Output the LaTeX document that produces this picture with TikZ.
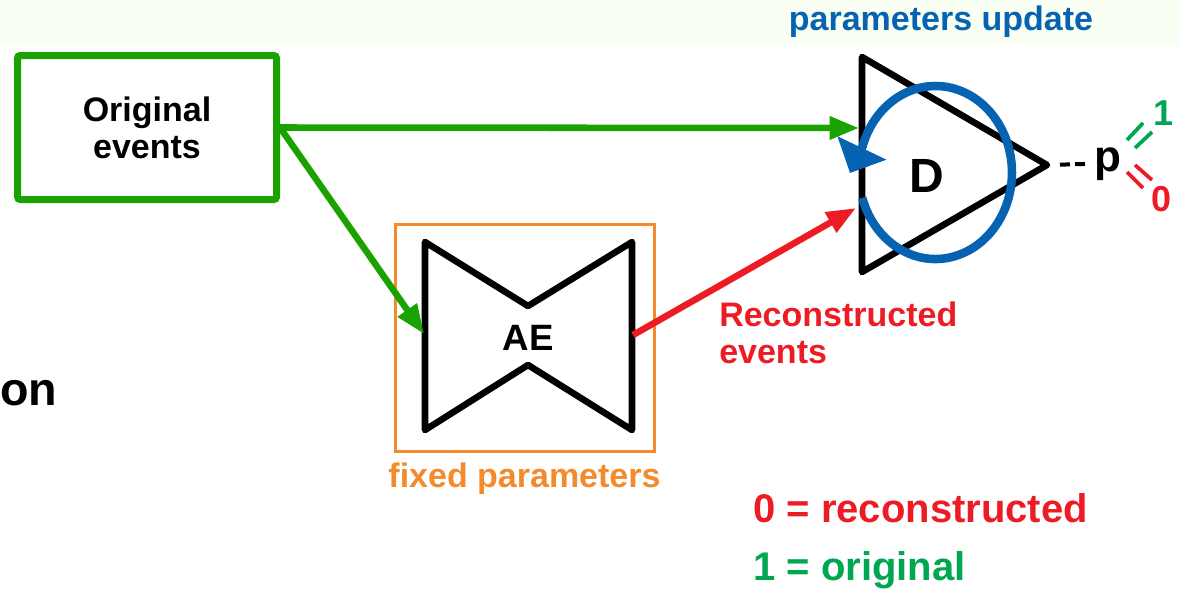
\documentclass[tikz,border=0pt]{standalone}
\usepackage{fontspec}
\setmainfont{Liberation Sans}
\usetikzlibrary{arrows.meta}

\definecolor{evgreen}{RGB}{26,163,0}
\definecolor{keygreen}{RGB}{0,166,80}
\definecolor{evred}{RGB}{237,28,36}
\definecolor{upblue}{RGB}{5,99,177}
\definecolor{fixorange}{RGB}{243,139,44}
\definecolor{bandtint}{RGB}{250,255,244}

\begin{document}
\begin{tikzpicture}[x=0.75pt,y=0.75pt,
  lbl/.style={font=\bfseries\fontsize{25.5}{27.75}\selectfont, inner sep=0pt},
  keytext/.style={font=\bfseries\fontsize{30}{36}\selectfont, inner sep=0pt},
  flow/.style={line width=4.9pt, -{Triangle[length=22pt,width=16.5pt]}},
  outline/.style={line width=4.9pt, line join=round, line cap=round},
  eqmark/.style={line width=2.8pt},
  pdash/.style={line width=3pt, dash pattern=on 7.5pt off 3.75pt}
]
\useasboundingbox (0,0) rectangle (1180,-589);
\fill[bandtint] (0,0) rectangle (1180,-46);

% input block
\node[draw=evgreen, line width=5.25pt, rounded corners=2pt,
      minimum width=194.25pt, minimum height=108pt, inner sep=0pt,
      align=center, font=\bfseries\fontsize{25.5}{27.75}\selectfont]
      (orig) at (147,-127.5) {Original\\events};

% autoencoder with its frozen-parameter frame
\node[draw=fixorange, line width=2.25pt, minimum width=194.25pt,
      minimum height=170.25pt, inner sep=0pt] (aebox) at (524.5,-337.5) {};
\draw[outline] (425,-242) -- (528,-306) -- (632,-242) -- (632,-430)
               -- (528,-365) -- (425,-430) -- cycle;
\node[font=\bfseries\fontsize{27.5}{33}\selectfont, inner sep=0pt, anchor=base]
      (ae) at (528,-350) {AE};
\node[lbl, text=fixorange, anchor=base] (fixed) at (524.5,-487) {fixed parameters};
\coordinate (AEin)  at (424,-334);
\coordinate (AEout) at (633,-335);

% discriminator
\draw[outline] (862,-57) -- (1047,-165) -- (862,-272) -- cycle;
\coordinate (Dapex) at (1048,-165);
\coordinate (Din1) at (859,-128);
\coordinate (Din2) at (856,-208);
\node[font=\bfseries\fontsize{36}{43}\selectfont, inner sep=0pt, anchor=base]
      (D) at (927,-192) {D};

% training loop of the discriminator
\draw[line width=6.4pt, upblue, -{Triangle[length=20.8pt,width=39.5pt]}]
      (862.3,-197.8) arc[start angle=197, end angle=523,
                          x radius=76.5, y radius=86.5]
      -- (850,-173);
\node[lbl, text=upblue, anchor=base] (upd) at (941,-30) {parameters update};

% data flow
\draw[flow, evgreen] (orig.east) -- (Din1);
\draw[flow, evgreen] (orig.east) -- (AEin);
\draw[flow, evred] (AEout) -- (Din2);
\node[lbl, text=evred, align=left, anchor=north west] (rec) at (719,-302)
      {Reconstructed\\events};

% output probability
\node[font=\bfseries\fontsize{33}{40}\selectfont, inner sep=0pt, anchor=base]
      (p) at (1108,-171) {p};
\draw[pdash, shorten <=9pt, shorten >=6.75pt] (Dapex) -- (p.west);
\draw[eqmark, keygreen] (1127,-140) -- (1143,-123);
\draw[eqmark, keygreen] (1135,-148) -- (1152,-132);
\draw[eqmark, evred] (1127,-172) -- (1143,-188);
\draw[eqmark, evred] (1135,-165) -- (1152,-180);
\node[font=\bfseries\fontsize{27}{32}\selectfont, inner sep=0pt, anchor=base,
      text=keygreen] (one) at (1163,-125) {1};
\node[font=\bfseries\fontsize{27}{32}\selectfont, inner sep=0pt, anchor=base,
      text=evred] (zero) at (1161,-211) {0};

% legend
\node[keytext, text=evred, anchor=base west] (k0) at (753,-522) {0 = reconstructed};
\node[keytext, text=keygreen, anchor=base west] (k1) at (753,-580) {1 = original};

% tail of a title that runs off the left edge
\node[font=\bfseries\fontsize{35}{42}\selectfont, inner sep=0pt, anchor=base west]
      (tail) at (0,-405) {on};
\end{tikzpicture}
\end{document}
